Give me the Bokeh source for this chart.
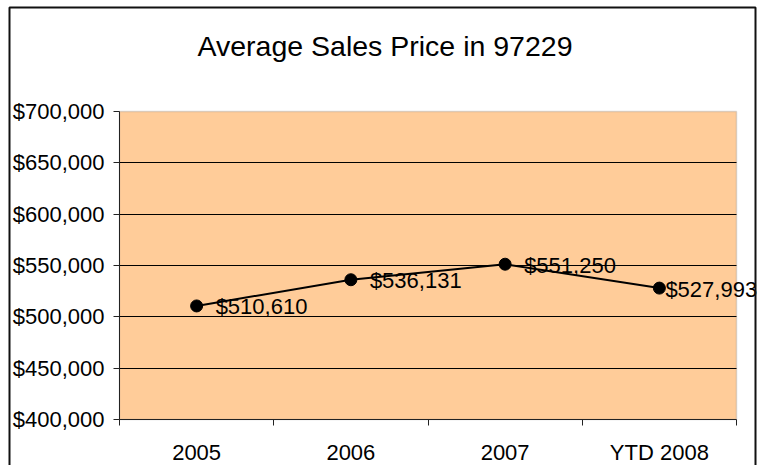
from bokeh.plotting import figure
from bokeh.models import (ColumnDataSource, FixedTicker, NumeralTickFormatter, Range1d, Label,
                          BoxAnnotation, Grid)
from bokeh.core.properties import value
from bokeh.embed import file_html
from bokeh.resources import INLINE

# ---- data ----
categories = ["2005", "2006", "2007", "YTD 2008"]
avg_price = [510610, 536131, 551250, 527993]
price_labels = ["$510,610", "$536,131", "$551,250", "$527,993"]
y_ticks = [400000, 450000, 500000, 550000, 600000, 650000, 700000]
title_text = "Average Sales Price in 97229"

FONT = "Liberation Sans"

# layout (pixels, page coordinates from top-left)
W, H = 770, 465
PLOT_L, PLOT_R, PLOT_T, PLOT_B = 119, 736, 111, 419   # shaded plot area
BOX_L, BOX_R, BOX_T = 9, 755, 7                        # outer chart border

n = len(categories)
y0, y1 = y_ticks[0], y_ticks[-1]
kx = n / (PLOT_R - PLOT_L)
ky = (y1 - y0) / (PLOT_B - PLOT_T)

xs = [i + 0.5 for i in range(n)]
label_dx = [19] * (n - 1) + [6]

src = ColumnDataSource(dict(x=xs, y=avg_price, lab=price_labels, dx=label_dx))

p = figure(width=W, height=H, output_backend="svg", toolbar_location=None,
           x_range=Range1d(-PLOT_L * kx, (W - PLOT_L) * kx),
           y_range=Range1d(y0 - (H - PLOT_B) * ky, y1 + PLOT_T * ky),
           min_border_left=0, min_border_right=0, min_border_top=0, min_border_bottom=0)

p.background_fill_color = "white"
p.border_fill_color = "white"
p.outline_line_color = None

# shaded plot area
p.add_layout(BoxAnnotation(left=0, right=n, bottom=y0, top=y1,
                           fill_color="#FFCC99", fill_alpha=1.0,
                           line_color="#8c8c8c", line_width=1.5, level="image"))

# outer chart border (bottom edge lies below the visible page)
p.add_layout(BoxAnnotation(left=BOX_L, right=BOX_R, top=H - BOX_T, bottom=-20,
                           left_units="screen", right_units="screen",
                           top_units="screen", bottom_units="screen",
                           fill_color=None, line_color="#111111", line_width=2,
                           line_alpha=1.0, level="overlay"))

# y axis
p.yaxis.fixed_location = 0
p.yaxis.bounds = (y0, y1)
p.yaxis.ticker = FixedTicker(ticks=y_ticks)
p.yaxis.formatter = NumeralTickFormatter(format="$0,0")
p.yaxis.major_label_text_font = FONT
p.yaxis.major_label_text_font_size = "22px"
p.yaxis.major_label_text_color = "black"
p.yaxis.major_tick_out = 6
p.yaxis.major_tick_in = 0
p.yaxis.minor_tick_line_color = None
p.yaxis.axis_line_color = "#222222"
p.yaxis.major_tick_line_color = "#222222"
p.yaxis.major_label_standoff = 9

# x axis: labels at centers, ticks at boundaries
p.xaxis.fixed_location = y0
p.xaxis.bounds = (0, n)
p.xaxis.ticker = FixedTicker(ticks=xs, minor_ticks=list(range(n + 1)))
p.xaxis.major_label_overrides = {x: c for x, c in zip(xs, categories)}
p.xaxis.major_label_text_font = FONT
p.xaxis.major_label_text_font_size = "22px"
p.xaxis.major_label_text_color = "black"
p.xaxis.major_tick_line_color = None
p.xaxis.minor_tick_out = 6
p.xaxis.minor_tick_in = 0
p.xaxis.minor_tick_line_color = "#222222"
p.xaxis.axis_line_color = "#222222"
p.xaxis.major_label_standoff = 14

# grid (horizontal lines only across the shaded area)
p.xgrid.grid_line_color = None
inner_ticks = y_ticks[1:-1]
if "cross_bounds" in Grid.properties():
    p.ygrid.ticker = FixedTicker(ticks=inner_ticks)
    p.ygrid.cross_bounds = (0, n)
    p.ygrid.grid_line_color = "black"
    p.ygrid.grid_line_width = 1
else:
    p.ygrid.grid_line_color = None
    p.segment(x0=[0] * len(inner_ticks), x1=[n] * len(inner_ticks),
              y0=inner_ticks, y1=inner_ticks, line_color="black", line_width=1)

p.line("x", "y", source=src, line_color="black", line_width=2)
p.scatter("x", "y", source=src, size=12, fill_color="black", line_color="black")
p.text("x", "y", text="lab", source=src, x_offset="dx", y_offset=1,
       text_font=value(FONT), text_font_size="22px", text_color="black",
       text_align="left", text_baseline="middle")

title = Label(x=384.5, y=H - 45, x_units="screen", y_units="screen", text=title_text,
              text_font=FONT, text_font_size="28.5px", text_color="black",
              text_align="center", text_baseline="alphabetic")
p.add_layout(title)

open("out.html", "w").write(file_html(p, INLINE))
